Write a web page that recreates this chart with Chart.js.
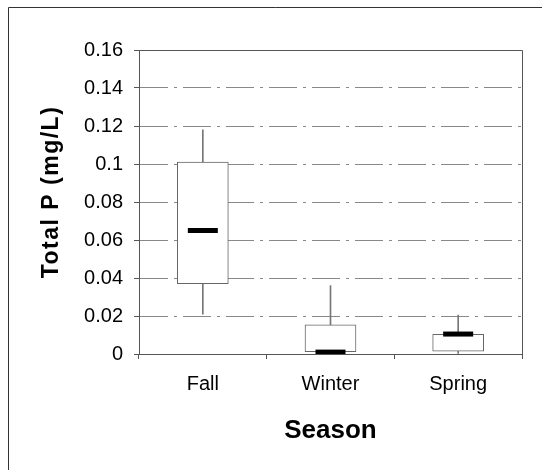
<!DOCTYPE html>
<html>
<head>
<meta charset="utf-8">
<script src="https://cdn.jsdelivr.net/npm/chart.js@4"></script>
<style>
  body { margin: 0; background: #fff; }
  canvas { display: block; }
</style>
</head>
<body>
<canvas id="boxChart" width="542" height="470"></canvas>
<script>
// total phosphorus by season (mg/L)
const seasons = ["Fall", "Winter", "Spring"];
const whiskerLow = [0.021, 0, 0];
const quartile1 = [0.037, 0.0012, 0.0015];
const medians = [0.065, 0.001, 0.0105];
const quartile3 = [0.101, 0.0153, 0.0103];
const whiskerHigh = [0.118, 0.036, 0.0205];

const yMin = 0;
const yMax = 0.16;
const yStep = 0.02;

const yTitle = "Total P (mg/L)";
const xTitle = "Season";

// frame lines + rotated y title (with letter spacing)
const extras = {
    id: "extras",
    afterDraw(chart) {
        const ctx = chart.ctx;
        const a = chart.chartArea;
        ctx.save();
        ctx.strokeStyle = "#555";
        ctx.lineWidth = 1;
        ctx.beginPath();
        // plot box top + right
        ctx.moveTo(a.left, a.top + 0.5);
        ctx.lineTo(a.right + 0.5, a.top + 0.5);
        ctx.lineTo(a.right + 0.5, a.bottom);
        ctx.stroke();
        // outer chart frame
        ctx.strokeStyle = "#333";
        ctx.beginPath();
        ctx.moveTo(8.5, chart.height);
        ctx.lineTo(8.5, 7.5);
        ctx.lineTo(chart.width, 7.5);
        ctx.stroke();

        ctx.translate(52, (a.top + a.bottom) / 2 - 10);
        ctx.rotate(-Math.PI / 2);
        ctx.font = "bold 23px 'Liberation Sans', Arial, sans-serif";
        ctx.letterSpacing = "1.5px";
        ctx.fillStyle = "#000";
        ctx.textAlign = "center";
        ctx.textBaseline = "middle";
        ctx.fillText(yTitle, 0, 0);
        ctx.restore();
    }
};

const ctx = document.getElementById("boxChart");

new Chart(ctx, {
    type: "bar",
    data: {
        labels: seasons,
        datasets: [{
                type: "line",
                label: "Median",
                data: medians,
                showLine: false,
                pointStyle: "line",
                pointRadius: 15,
                pointHoverRadius: 15,
                pointBorderWidth: 5,
                pointBorderColor: "#000",
                order: 0
            }, {
                label: "Quartiles",
                data: seasons.map((s, i) => [quartile1[i], quartile3[i]]),
                backgroundColor: "#fff",
                borderColor: "#666",
                borderWidth: 1,
                borderSkipped: false,
                barThickness: 51,
                grouped: false,
                order: 1
            }, {
                label: "Range",
                data: seasons.map((s, i) => [whiskerLow[i], whiskerHigh[i]]),
                backgroundColor: "#777",
                borderWidth: 0,
                barThickness: 1,
                grouped: false,
                order: 2
            }]
    },
    options: {
        responsive: false,
        animation: false,
        layout: {
            padding: {top: 50, right: 10, left: 0, bottom: 0}
        },
        plugins: {
            legend: {display: false},
            tooltip: {enabled: false}
        },
        scales: {
            x: {
                afterFit: scale => { scale.height = 116; },
                grid: {
                    display: true,
                    drawOnChartArea: false,
                    drawTicks: true,
                    tickLength: 5,
                    tickColor: "#555",
                    offset: true
                },
                border: {display: true, color: "#555", width: 1},
                ticks: {
                    color: "#000",
                    padding: 13,
                    font: {family: "'Liberation Sans', Arial, sans-serif", size: 20}
                },
                title: {
                    display: true,
                    text: xTitle,
                    color: "#000",
                    padding: {top: 0, bottom: 24},
                    font: {family: "'Liberation Sans', Arial, sans-serif", size: 26, weight: "bold"}
                }
            },
            y: {
                min: yMin,
                max: yMax,
                afterFit: scale => { scale.width = 139; },
                grid: {
                    color: ctx => ctx.tick && ctx.tick.value >= yMax ? "rgba(0,0,0,0)" : "#888",
                    lineWidth: 1,
                    drawTicks: true,
                    tickLength: 5,
                    tickColor: "#555",
                    tickBorderDash: []
                },
                border: {display: true, color: "#555", width: 1, dash: [28, 6, 3, 6]},
                ticks: {
                    stepSize: yStep,
                    color: "#000",
                    padding: 11,
                    // 0.1 not 0.10, 0 not 0.00
                    callback: v => String(+v.toFixed(2)),
                    font: {family: "'Liberation Sans', Arial, sans-serif", size: 20}
                }
            }
        }
    },
    plugins: [extras]
});
</script>
</body>
</html>
